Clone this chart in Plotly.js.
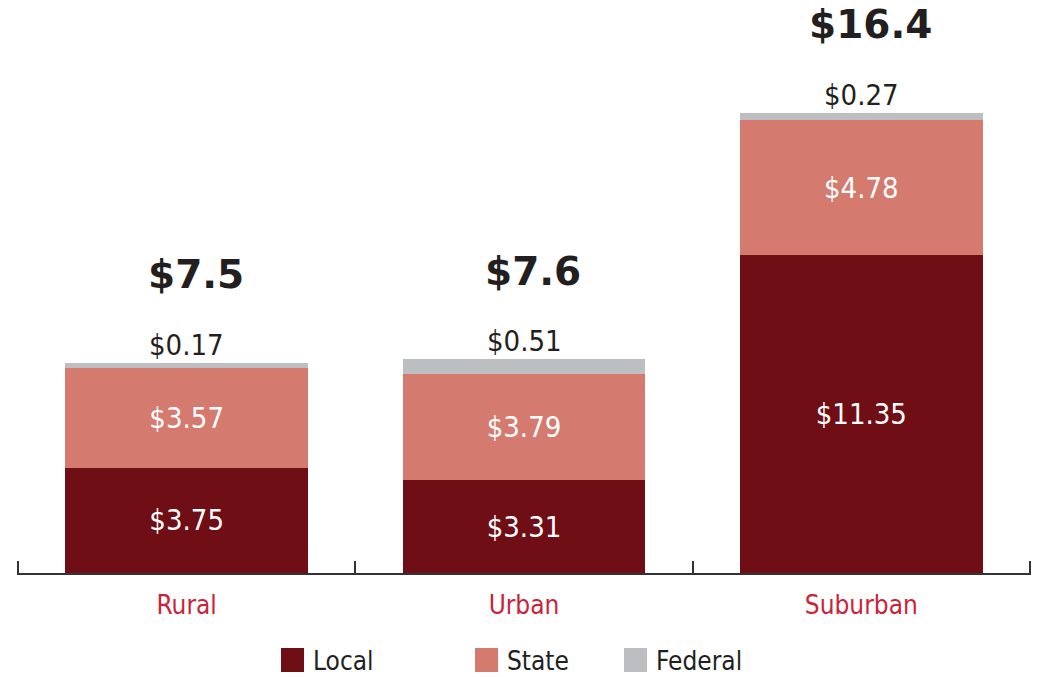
<!DOCTYPE html>
<html>
<head>
<meta charset="utf-8">
<script src="https://cdn.plot.ly/plotly-3.0.1.min.js"></script>
<style>html,body{margin:0;padding:0;background:#fff;}#chart{width:1041px;height:677px;}</style>
</head>
<body>
<div id="chart"></div>
<script>
const categories = ["Rural", "Urban", "Suburban"];
const localValues = [3.75, 3.31, 11.35];
const stateValues = [3.57, 3.79, 4.78];
const federalValues = [0.17, 0.51, 0.27];
const totalLabels = ["$7.5", "$7.6", "$16.4"];
const seriesNames = ["Local", "State", "Federal"];
const seriesColors = ["#700E16", "#D47A6E", "#BDBEC1"];

const narrow = "DejaVu Sans Condensed, Liberation Sans Narrow, Arial Narrow, sans-serif";
const fmt = v => "$" + v.toFixed(2);

const traces = [localValues, stateValues, federalValues].map((vals, i) => ({
  type: "bar",
  x: categories,
  y: vals,
  name: seriesNames[i],
  marker: {color: seriesColors[i], line: {width: 0}},
  text: i < 2 ? vals.map(fmt) : vals.map(() => ""),
  textposition: i < 2 ? "inside" : "none",
  insidetextanchor: "middle",
  textangle: 0,
  textfont: {family: narrow, size: 29, color: "#ffffff"},
  hoverinfo: "skip",
  showlegend: false
}));

const tops = categories.map((c, k) => localValues[k] + stateValues[k] + federalValues[k]);

const annotations = [];
categories.forEach((c, k) => {
  annotations.push({
    x: c, y: tops[k], xref: "x", yref: "y",
    text: fmt(federalValues[k]), showarrow: false,
    yanchor: "bottom", yshift: -1,
    font: {family: narrow, size: 29, color: "#231F20"}
  });
  annotations.push({
    x: c, y: tops[k], xref: "x", yref: "y",
    text: "<b>" + totalLabels[k] + "</b>", showarrow: false,
    yanchor: "middle", yshift: 88, xshift: 9,
    font: {family: "DejaVu Sans", size: 39, color: "#231F20"}
  });
});

const legendX = [281, 475, 624];
const shapes = [];
seriesNames.forEach((n, i) => {
  shapes.push({
    type: "rect", xref: "paper", yref: "paper",
    x0: (legendX[i] - 17) / 1014, x1: (legendX[i] + 23 - 17) / 1014,
    y0: -(648 + 24 - 573) / 553, y1: -(648 - 573) / 553,
    fillcolor: seriesColors[i], line: {width: 0}
  });
  annotations.push({
    x: (legendX[i] + 30 - 17) / 1014, y: -(661 - 573) / 553,
    xref: "paper", yref: "paper", xanchor: "left", yanchor: "middle",
    text: n, showarrow: false,
    font: {family: narrow, size: 26, color: "#231F20"}
  });
});

const layout = {
  width: 1041, height: 677,
  margin: {l: 17, r: 10, t: 20, b: 104},
  paper_bgcolor: "#ffffff", plot_bgcolor: "#ffffff",
  barmode: "stack",
  bargap: 0.281,
  xaxis: {
    type: "category", range: [-0.503, 2.503],
    showline: true, linecolor: "#333333", linewidth: 2,
    ticks: "inside", tickson: "boundaries", ticklen: 12, tickwidth: 2, tickcolor: "#333333",
    tickfont: {family: narrow, size: 26, color: "#C8243A"},
    ticklabelstandoff: 8,
    showgrid: false, zeroline: false, fixedrange: true
  },
  yaxis: {
    range: [0, 19.71], visible: false, showgrid: false, zeroline: false, fixedrange: true
  },
  annotations: annotations,
  shapes: shapes,
  showlegend: false
};

Plotly.newPlot("chart", traces, layout, {displayModeBar: false, staticPlot: true});
</script>
</body>
</html>
